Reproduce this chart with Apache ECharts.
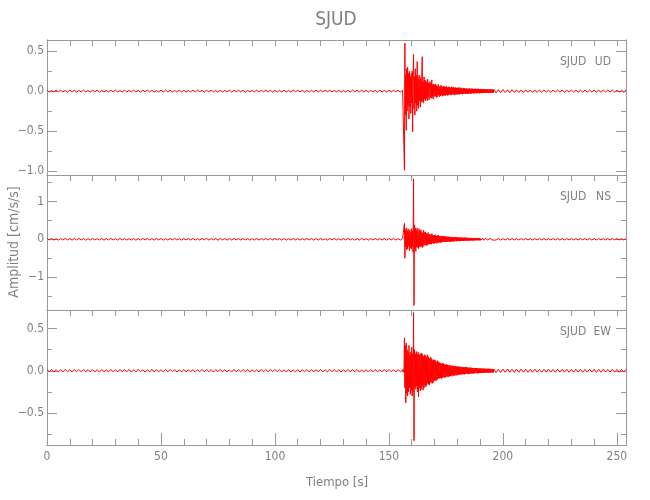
<!DOCTYPE html>
<html>
<head>
<meta charset="utf-8">
<script src="https://cdn.jsdelivr.net/npm/echarts@6/dist/echarts.min.js"></script>
<style>html,body{margin:0;padding:0;background:#fff}#chart{width:650px;height:500px}</style>
</head>
<body>
<div id="chart"></div>
<script>
// ---------- data ----------
// sampling of the three segments (seconds)
const preStart = 0, preStep = 1;      // 0 .. 155 s
const evStart = 156, evStep = 0.2;    // 156.0 .. 195.8 s
const postStart = 196, postStep = 1;  // 196 .. 254 s

const xMajorTicks = [0, 50, 100, 150, 200, 250];
const xMinorTicks = [10, 20, 30, 40, 60, 70, 80, 90, 110, 120, 130, 140, 160, 170, 180, 190, 210, 220, 230, 240];
const xTopTicks = [10, 20, 30, 40, 50, 60, 70, 80, 90, 100, 110, 120, 130, 140, 150, 160, 170, 180, 190, 200, 210, 220, 230, 240, 250];

const udMajorTicks = [-1, -0.5, 0, 0.5];
const udMinorTicks = [-0.75, -0.25, 0.25];
const nsMajorTicks = [-1, 0, 1];
const nsMinorTicks = [-1.5, -0.5, 0.5, 1.5];
const ewMajorTicks = [-0.5, 0, 0.5];
const ewMinorTicks = [-0.75, -0.25, 0.25];

// ----- UD -----
const udPre = [
 0.010,-0.012,0.008,-0.011,0.013,-0.009,0.011,-0.010,0.009,-0.013,
 0.012,-0.008,0.010,-0.012,0.009,-0.011,0.013,-0.010,0.008,-0.012,
 0.011,-0.009,0.012,-0.013,0.010,-0.008,0.009,-0.011,0.012,-0.010,
 0.013,-0.011,0.008,-0.010,0.011,-0.012,0.010,-0.009,0.013,-0.011,
 0.009,-0.013,0.011,-0.008,0.012,-0.010,0.010,-0.012,0.008,-0.011,
 0.012,-0.010,0.013,-0.009,0.010,-0.011,0.009,-0.013,0.011,-0.010,
 0.010,-0.012,0.009,-0.011,0.013,-0.010,0.012,-0.008,0.010,-0.012,
 0.011,-0.009,0.012,-0.010,0.008,-0.013,0.011,-0.011,0.009,-0.010,
 0.013,-0.012,0.010,-0.009,0.011,-0.010,0.012,-0.013,0.010,-0.008,
 0.009,-0.011,0.012,-0.012,0.010,-0.009,0.013,-0.010,0.011,-0.012,
 0.010,-0.013,0.009,-0.010,0.012,-0.011,0.008,-0.012,0.013,-0.009,
 0.011,-0.010,0.010,-0.013,0.009,-0.012,0.011,-0.009,0.012,-0.011,
 0.012,-0.011,0.013,-0.008,0.010,-0.010,0.009,-0.012,0.011,-0.013,
 0.008,-0.010,0.011,-0.012,0.013,-0.009,0.010,-0.011,0.012,-0.010,
 0.011,-0.012,0.009,-0.011,0.010,-0.013,0.012,-0.010,0.009,-0.011,
 0.012,-0.010,0.011,-0.009,0.010,-0.012
];
const udEvent = [
 0.010,-0.012,0.011,-0.015,-0.990,0.600,-0.300,0.200,-0.490,0.280,
 -0.250,0.300,-0.180,0.220,-0.350,0.250,-0.200,0.180,-0.280,0.220,
 -0.150,0.250,-0.510,0.200,0.460,-0.220,0.180,-0.300,0.280,-0.150,
 0.200,-0.250,0.370,-0.180,0.150,-0.220,0.200,-0.120,0.180,-0.200,
 0.150,-0.140,0.200,0.430,-0.130,0.120,-0.150,0.180,-0.100,0.140,
 -0.120,0.130,-0.090,0.110,-0.120,0.150,-0.080,0.100,-0.110,0.090,
 0.120,-0.080,0.100,-0.090,0.140,-0.070,0.080,-0.100,0.090,-0.060,
 0.080,-0.070,0.090,-0.060,0.070,-0.080,0.060,-0.070,0.085,-0.050,
 0.060,-0.070,0.050,-0.060,0.075,-0.050,0.060,-0.065,0.050,-0.055,
 0.065,-0.050,0.055,-0.060,0.050,-0.045,0.060,-0.050,0.045,-0.055,
 0.050,-0.045,0.055,-0.040,0.050,-0.050,0.040,-0.045,0.055,-0.040,
 0.045,-0.040,0.050,-0.045,0.040,-0.050,0.045,-0.035,0.040,-0.045,
 0.040,-0.035,0.045,-0.040,0.035,-0.040,0.045,-0.035,0.040,-0.030,
 0.035,-0.040,0.030,-0.035,0.040,-0.030,0.035,-0.035,0.030,-0.035,
 0.035,-0.030,0.030,-0.035,0.028,-0.030,0.035,-0.028,0.030,-0.030,
 0.028,-0.030,0.032,-0.025,0.030,-0.028,0.025,-0.030,0.028,-0.025,
 0.030,-0.025,0.025,-0.028,0.030,-0.025,0.028,-0.022,0.025,-0.028,
 0.025,-0.022,0.028,-0.025,0.022,-0.025,0.025,-0.022,0.028,-0.022,
 0.022,-0.025,0.020,-0.022,0.025,-0.020,0.022,-0.022,0.020,-0.024,
 0.022,-0.020,0.024,-0.020,0.020,-0.022,0.022,-0.020,0.020,-0.021
];
const udPost = [
 0.020,-0.022,0.018,-0.020,0.020,-0.018,0.017,-0.020,0.018,-0.016,
 0.016,-0.018,0.015,-0.016,0.017,-0.014,0.015,-0.016,0.014,-0.015,
 0.014,-0.013,0.015,-0.014,0.013,-0.015,0.014,-0.012,0.014,-0.013,
 0.013,-0.014,0.012,-0.013,0.014,-0.012,0.013,-0.014,0.012,-0.013,
 0.014,-0.012,0.013,-0.012,0.014,-0.013,0.012,-0.014,0.013,-0.012,
 0.013,-0.012,0.014,-0.013,0.012,-0.013,0.012,-0.014,0.012
];

// ----- NS -----
const nsPre = [
 0.020,-0.018,0.022,-0.021,0.017,-0.023,0.019,-0.020,0.024,-0.017,
 0.018,-0.022,0.021,-0.019,0.023,-0.018,0.020,-0.024,0.017,-0.021,
 0.022,-0.019,0.018,-0.020,0.021,-0.023,0.019,-0.017,0.024,-0.020,
 0.017,-0.021,0.023,-0.018,0.020,-0.022,0.018,-0.019,0.021,-0.024,
 0.019,-0.020,0.022,-0.017,0.024,-0.021,0.018,-0.023,0.020,-0.018,
 0.021,-0.024,0.017,-0.019,0.020,-0.018,0.023,-0.020,0.019,-0.022,
 0.018,-0.017,0.020,-0.023,0.022,-0.019,0.017,-0.021,0.024,-0.018,
 0.023,-0.020,0.019,-0.018,0.021,-0.024,0.020,-0.017,0.018,-0.022,
 0.020,-0.021,0.024,-0.019,0.017,-0.020,0.022,-0.018,0.019,-0.023,
 0.017,-0.019,0.021,-0.022,0.018,-0.017,0.023,-0.020,0.021,-0.019,
 0.024,-0.018,0.020,-0.021,0.019,-0.023,0.017,-0.020,0.022,-0.018,
 0.019,-0.022,0.018,-0.017,0.023,-0.019,0.021,-0.024,0.018,-0.020,
 0.022,-0.020,0.017,-0.023,0.020,-0.018,0.024,-0.019,0.017,-0.021,
 0.020,-0.017,0.023,-0.020,0.018,-0.022,0.019,-0.021,0.024,-0.018,
 0.018,-0.023,0.019,-0.018,0.022,-0.020,0.017,-0.019,0.021,-0.022,
 0.023,-0.019,0.020,-0.021,0.018,-0.020
];
const nsEvent = [
 0.020,-0.025,0.022,-0.030,0.420,-0.500,0.250,-0.200,0.300,-0.280,
 0.220,-0.250,0.280,-0.180,0.200,-0.300,0.250,-0.220,0.180,-0.260,
 0.280,-0.200,0.220,-0.350,1.600,-1.750,0.380,-0.250,0.300,-0.320,
 0.250,-0.200,0.300,-0.220,0.180,-0.250,0.280,-0.190,0.220,-0.200,
 0.250,-0.180,0.200,-0.220,0.160,-0.190,0.240,-0.150,0.180,-0.160,
 0.200,-0.140,0.160,-0.170,0.130,-0.150,0.180,-0.120,0.140,-0.130,
 0.140,-0.120,0.110,-0.130,0.150,-0.100,0.120,-0.110,0.100,-0.120,
 0.110,-0.090,0.120,-0.100,0.090,-0.110,0.100,-0.080,0.110,-0.090,
 0.090,-0.080,0.085,-0.090,0.075,-0.080,0.090,-0.070,0.080,-0.075,
 0.080,-0.070,0.075,-0.065,0.080,-0.070,0.065,-0.075,0.070,-0.060,
 0.065,-0.060,0.070,-0.055,0.060,-0.065,0.055,-0.060,0.065,-0.050,
 0.055,-0.060,0.050,-0.055,0.060,-0.050,0.055,-0.045,0.050,-0.055,
 0.050,-0.045,0.050,-0.040,0.045,-0.050,0.040,-0.045,0.050,-0.040,
 0.045,-0.040,0.040,-0.045,0.040,-0.040,0.045,-0.035,0.040,-0.040,
 0.040,-0.035,0.040,-0.035,0.035,-0.040,0.035,-0.035,0.040,-0.030,
 0.035,-0.030,0.035,-0.032,0.030,-0.035,0.030,-0.030,0.032,-0.028,
 0.030,-0.028,0.030,-0.025,0.028,-0.030,0.025,-0.028,0.030,-0.025,
 0.028,-0.025,0.025,-0.028,0.025,-0.022,0.028,-0.025,0.022,-0.025,
 0.025,-0.022,0.024,-0.025,0.022,-0.022,0.025,-0.020,0.022,-0.024,
 0.022,-0.020,0.024,-0.021,0.020,-0.022,0.021,-0.020,0.022,-0.020
];
const nsPost = [
 0.022,-0.020,0.020,-0.022,0.018,-0.020,0.021,-0.018,0.020,-0.019,
 0.018,-0.020,0.019,-0.017,0.020,-0.018,0.017,-0.019,0.018,-0.017,
 0.019,-0.017,0.018,-0.019,0.017,-0.018,0.019,-0.016,0.018,-0.019,
 0.017,-0.018,0.019,-0.017,0.018,-0.019,0.016,-0.018,0.019,-0.017,
 0.018,-0.017,0.019,-0.018,0.017,-0.019,0.018,-0.016,0.019,-0.018,
 0.017,-0.019,0.018,-0.017,0.019,-0.018,0.016,-0.018,0.017
];

// ----- EW -----
const ewPre = [
 0.014,-0.012,0.016,-0.013,0.011,-0.015,0.013,-0.014,0.017,-0.012,
 0.012,-0.016,0.014,-0.011,0.015,-0.013,0.016,-0.012,0.013,-0.015,
 0.015,-0.013,0.012,-0.016,0.014,-0.012,0.011,-0.014,0.016,-0.013,
 0.013,-0.015,0.016,-0.012,0.014,-0.011,0.015,-0.016,0.012,-0.014,
 0.016,-0.011,0.013,-0.015,0.012,-0.014,0.017,-0.013,0.014,-0.012,
 0.011,-0.014,0.015,-0.013,0.016,-0.012,0.013,-0.015,0.012,-0.016,
 0.014,-0.013,0.012,-0.014,0.015,-0.016,0.011,-0.012,0.016,-0.013,
 0.015,-0.012,0.014,-0.016,0.013,-0.011,0.016,-0.014,0.012,-0.015,
 0.012,-0.015,0.016,-0.013,0.011,-0.014,0.015,-0.012,0.014,-0.016,
 0.013,-0.014,0.012,-0.015,0.016,-0.013,0.014,-0.011,0.015,-0.012,
 0.016,-0.012,0.014,-0.013,0.012,-0.015,0.013,-0.016,0.011,-0.014,
 0.014,-0.016,0.013,-0.012,0.015,-0.014,0.016,-0.013,0.012,-0.011,
 0.015,-0.013,0.011,-0.014,0.016,-0.012,0.014,-0.015,0.013,-0.016,
 0.012,-0.014,0.016,-0.013,0.014,-0.012,0.015,-0.016,0.011,-0.013,
 0.013,-0.015,0.014,-0.012,0.016,-0.014,0.012,-0.013,0.015,-0.014,
 0.016,-0.012,0.013,-0.015,0.014,-0.013
];
const ewEvent = [
 0.012,-0.015,0.014,-0.020,0.390,-0.200,0.300,-0.380,0.330,-0.270,
 0.250,-0.300,0.220,-0.250,0.300,-0.200,0.180,-0.280,0.220,-0.230,
 0.280,-0.300,0.200,-0.250,0.690,-0.830,0.250,-0.190,0.200,-0.220,
 0.230,-0.180,0.200,-0.250,0.220,-0.310,0.180,-0.200,0.200,-0.240,
 0.200,-0.220,0.210,-0.180,0.190,-0.230,0.170,-0.200,0.190,-0.170,
 0.180,-0.190,0.160,-0.170,0.190,-0.150,0.170,-0.160,0.150,-0.170,
 0.150,-0.140,0.160,-0.130,0.140,-0.150,0.120,-0.140,0.130,-0.120,
 0.130,-0.110,0.120,-0.120,0.100,-0.110,0.120,-0.100,0.110,-0.090,
 0.100,-0.090,0.095,-0.085,0.090,-0.095,0.080,-0.085,0.090,-0.075,
 0.085,-0.080,0.075,-0.080,0.070,-0.075,0.080,-0.065,0.070,-0.070,
 0.065,-0.070,0.060,-0.065,0.070,-0.060,0.055,-0.065,0.060,-0.055,
 0.060,-0.055,0.055,-0.060,0.050,-0.055,0.055,-0.050,0.050,-0.055,
 0.050,-0.045,0.050,-0.050,0.045,-0.045,0.050,-0.040,0.045,-0.045,
 0.045,-0.040,0.045,-0.040,0.040,-0.045,0.040,-0.040,0.045,-0.035,
 0.040,-0.035,0.040,-0.038,0.035,-0.040,0.035,-0.035,0.038,-0.032,
 0.035,-0.032,0.035,-0.030,0.032,-0.035,0.030,-0.030,0.032,-0.028,
 0.030,-0.028,0.030,-0.028,0.028,-0.030,0.026,-0.028,0.028,-0.026,
 0.028,-0.026,0.026,-0.028,0.025,-0.024,0.027,-0.025,0.024,-0.025,
 0.025,-0.023,0.024,-0.025,0.022,-0.023,0.024,-0.022,0.023,-0.024,
 0.022,-0.021,0.023,-0.020,0.021,-0.022,0.020,-0.021,0.022,-0.020
];
const ewPost = [
 0.020,-0.022,0.019,-0.021,0.020,-0.018,0.021,-0.019,0.018,-0.020,
 0.019,-0.018,0.020,-0.017,0.018,-0.019,0.017,-0.018,0.019,-0.017,
 0.016,-0.018,0.017,-0.016,0.018,-0.017,0.016,-0.018,0.017,-0.016,
 0.018,-0.016,0.017,-0.018,0.016,-0.017,0.018,-0.016,0.017,-0.018,
 0.016,-0.017,0.018,-0.016,0.017,-0.018,0.016,-0.017,0.018,-0.016,
 0.017,-0.016,0.018,-0.017,0.016,-0.018,0.017,-0.016,0.018
];

const station = 'SJUD';
const components = ['UD', 'NS', 'EW'];

// ---------- build ----------
function buildTrace(pre, ev, post) {
  const d = [];
  pre.forEach((v, i) => d.push([+(preStart + i * preStep).toFixed(2), v]));
  ev.forEach((v, i) => d.push([+(evStart + i * evStep).toFixed(2), v]));
  post.forEach((v, i) => d.push([+(postStart + i * postStep).toFixed(2), v]));
  return d;
}

const FONT = "'Liberation Sans Narrow','DejaVu Sans Condensed','Liberation Sans',sans-serif";
const AX = '#9a9a9a';
const TXT = '#808080';
const minus = s => s.replace('-', '\u2212');

const panels = [
  { trace: buildTrace(udPre, udEvent, udPost), yMin: -1.05, yMax: 0.64, major: udMajorTicks, minor: udMinorTicks, fmt: v => minus(v.toFixed(1)) },
  { trace: buildTrace(nsPre, nsEvent, nsPost), yMin: -1.87, yMax: 1.70, major: nsMajorTicks, minor: nsMinorTicks, fmt: v => minus(v.toFixed(0)) },
  { trace: buildTrace(ewPre, ewEvent, ewPost), yMin: -0.88, yMax: 0.72, major: ewMajorTicks, minor: ewMinorTicks, fmt: v => minus(v.toFixed(1)) }
];
const gridTops = [40, 175, 310];
const X_MIN = 0, X_MAX = 254;

const grids = [], xAxes = [], yAxes = [], series = [];
const axisLine = { show: true, onZero: false, lineStyle: { color: AX, width: 1 } };

panels.forEach((p, k) => {
  grids.push({ left: 47, right: 24, top: gridTops[k], height: 135, containLabel: false, outerBoundsMode: 'none' });
  const isLast = k === panels.length - 1;
  const mainX = xAxes.length;
  xAxes.push({
    type: 'value', gridIndex: k, position: 'bottom', min: X_MIN, max: X_MAX,
    axisLine, splitLine: { show: false },
    axisTick: { show: isLast, inside: true, length: 12, customValues: xMajorTicks, lineStyle: { color: AX } },
    axisLabel: { show: isLast, customValues: xMajorTicks, color: TXT, fontFamily: FONT, fontSize: 12, margin: 6 }
  });
  if (isLast) {
    xAxes.push({
      type: 'value', gridIndex: k, position: 'bottom', min: X_MIN, max: X_MAX,
      axisLine, splitLine: { show: false },
      axisTick: { show: true, inside: true, length: 6, customValues: xMinorTicks, lineStyle: { color: AX } },
      axisLabel: { show: false }
    });
  }
  xAxes.push({
    type: 'value', gridIndex: k, position: 'top', min: X_MIN, max: X_MAX,
    axisLine, splitLine: { show: false },
    axisTick: { show: true, inside: true, length: 6, customValues: xTopTicks, lineStyle: { color: AX } },
    axisLabel: { show: false }
  });
  const mainY = yAxes.length;
  ['left', 'right'].forEach(pos => {
    yAxes.push({
      type: 'value', gridIndex: k, position: pos, min: p.yMin, max: p.yMax,
      axisLine, splitLine: { show: false },
      axisTick: { show: true, inside: true, length: 10, customValues: p.major, lineStyle: { color: AX } },
      axisLabel: { show: pos === 'left', customValues: p.major, formatter: p.fmt, color: TXT, fontFamily: FONT, fontSize: 12, margin: 3 }
    });
    yAxes.push({
      type: 'value', gridIndex: k, position: pos, min: p.yMin, max: p.yMax,
      axisLine, splitLine: { show: false },
      axisTick: { show: true, inside: true, length: 5, customValues: p.minor, lineStyle: { color: AX } },
      axisLabel: { show: false }
    });
  });
  series.push({
    type: 'line', name: components[k], xAxisIndex: mainX, yAxisIndex: mainY,
    data: p.trace, showSymbol: false, symbol: 'none', clip: true, z: 1,
    lineStyle: { color: '#ff0000', width: 1 }
  });
});

const graphics = [
  { type: 'text', x: 336, y: 20, style: { text: station, font: '19px ' + FONT, fill: TXT, align: 'center', verticalAlign: 'middle' } },
  { type: 'text', x: 337, y: 483, style: { text: 'Tiempo [s]', font: '13px ' + FONT, fill: TXT, align: 'center', verticalAlign: 'middle' } },
  { type: 'text', x: 14, y: 242, rotation: Math.PI / 2, style: { text: 'Amplitud [cm/s/s]', font: '14px ' + FONT, fill: TXT, align: 'center', verticalAlign: 'middle' } }
];
const labelYs = [61.5, 196.5, 331.5];
components.forEach((c, k) => {
  graphics.push({ type: 'text', x: 560, y: labelYs[k], style: { text: station, font: '12px ' + FONT, fill: TXT, align: 'left', verticalAlign: 'middle' } });
  graphics.push({ type: 'text', x: 611, y: labelYs[k], style: { text: c, font: '12px ' + FONT, fill: TXT, align: 'right', verticalAlign: 'middle' } });
});

const chart = echarts.init(document.getElementById('chart'), null, { renderer: 'canvas' });
chart.setOption({
  animation: false,
  backgroundColor: '#ffffff',
  grid: grids,
  xAxis: xAxes,
  yAxis: yAxes,
  series: series,
  graphic: graphics
});
</script>
</body>
</html>
